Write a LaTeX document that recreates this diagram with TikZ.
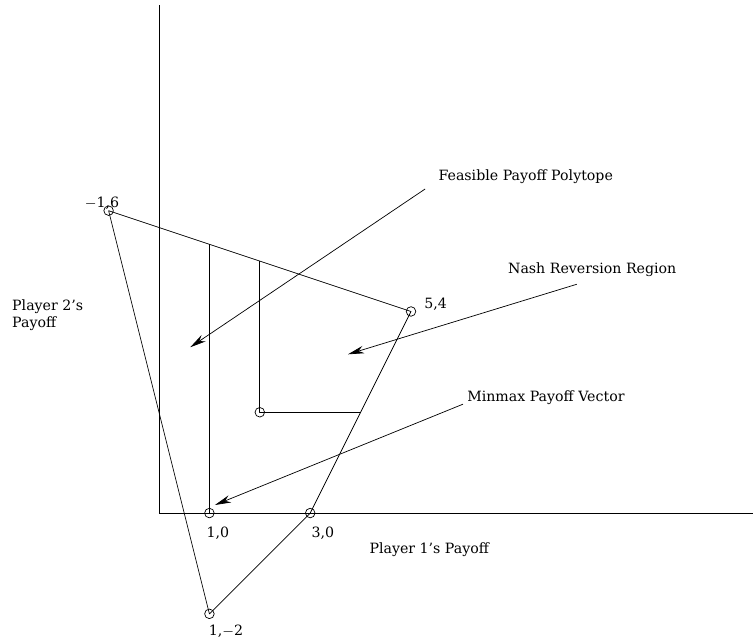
\documentclass[tikz,border=0pt]{standalone}
\usepackage{fontspec}
\setmainfont{DejaVu Serif}
\usetikzlibrary{arrows.meta, positioning}

\begin{document}
\begin{tikzpicture}[
    >={Stealth[length=3.2mm, width=1.5mm]},
    line join=round,
    font=\fontsize{8}{9.6}\selectfont,
    vertex/.style={circle, draw, inner sep=0pt, minimum size=0.19cm},
    pointer/.style={->, thin},
    lbl/.style={inner sep=0pt}
]

  % ==================== FRAME ====================
  \useasboundingbox (-3.155,-2.46) rectangle (11.786,10.18);

  % ==================== AXES ====================
  \coordinate (origin) at (0,0);
  \coordinate (xend) at (11.79,0);
  \coordinate (yend) at (0,10.08);
  \draw (origin) -- (xend);
  \draw (origin) -- (yend);

  % ==================== POLYTOPE ====================
  \coordinate (pA) at (-1,6);
  \coordinate (pB) at (5,4);
  \coordinate (pC) at (3,0);
  \coordinate (pD) at (1,-2);
  \draw (pA) -- (pB) -- (pC) -- (pD) -- cycle;

  % Nash reversion region
  \coordinate (vTop) at (1,5.333);
  \coordinate (vBot) at (1,0);
  \coordinate (mTop) at (2,5);
  \coordinate (mmx) at (2,2);
  \coordinate (mRight) at (4,2);
  \draw (vBot) -- (vTop);
  \draw (mTop) -- (mmx) -- (mRight);

  % Vertices
  \node[vertex] (nA) at (pA) {};
  \node[vertex] (nB) at (pB) {};
  \node[vertex] (nC) at (pC) {};
  \node[vertex] (nD) at (pD) {};
  \node[vertex] (nE) at (vBot) {};
  \node[vertex] (nM) at (mmx) {};

  % Vertex labels
  \node[lbl] (tA) at (-1.13,6.15) {$-$1,6};
  \node[lbl, anchor=west] (tB) at (5.26,4.15) {5,4};
  \node[lbl] (tE) at (1.17,-0.40) {1,0};
  \node[lbl] (tC) at (3.25,-0.40) {3,0};
  \node[lbl] (tD) at (1.33,-2.34) {1,$-$2};

  % ==================== AXIS LABELS ====================
  \node[lbl, anchor=west] (xlab) at (4.17,-0.73) {Player 1's Payoff};
  \node[lbl, anchor=west, align=left] (ylab) at (-2.92,3.93) {Player 2's\\Payoff};

  % ==================== CALLOUTS ====================
  \node[lbl, anchor=west] (fpp) at (5.54,6.67) {Feasible Payoff Polytope};
  \node[lbl, anchor=west] (nrr) at (6.92,4.82) {Nash Reversion Region};
  \node[lbl, anchor=west] (mpv) at (6.11,2.28) {Minmax Payoff Vector};

  \coordinate (fppTail) at (5.28,6.43);
  \coordinate (fppHead) at (0.62,3.29);
  \coordinate (nrrTail) at (8.29,4.54);
  \coordinate (nrrHead) at (3.75,3.15);
  \coordinate (mpvTail) at (6.03,2.16);
  \coordinate (mpvHead) at (1.11,0.16);

  \draw[pointer] (fppTail) -- (fppHead);
  \draw[pointer] (nrrTail) -- (nrrHead);
  \draw[pointer] (mpvTail) -- (mpvHead);

\end{tikzpicture}
\end{document}
